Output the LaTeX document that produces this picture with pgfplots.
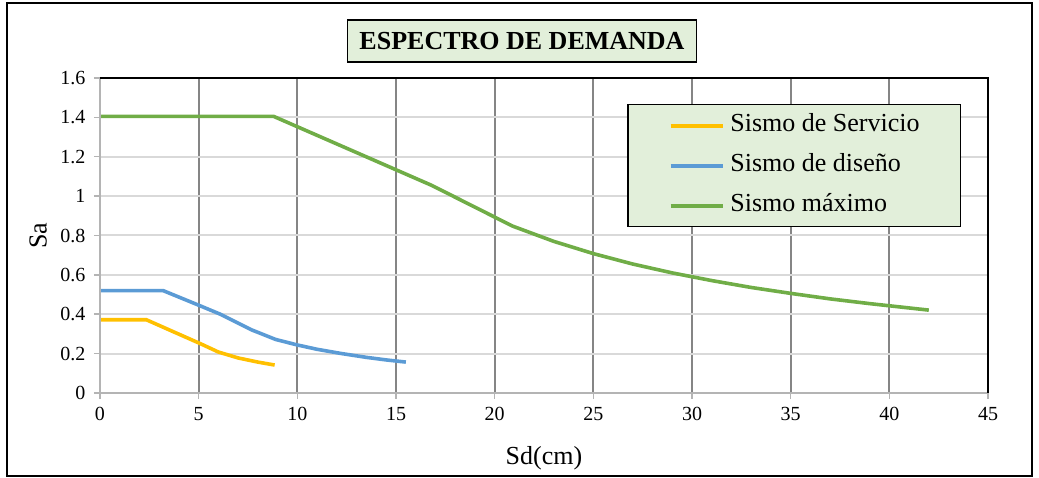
\documentclass[border=0pt]{standalone}
\usepackage{fontspec}
\setmainfont{Liberation Serif}
\usepackage{pgfplots}
\pgfplotsset{compat=1.18}
\definecolor{servicio}{HTML}{FFC000}
\definecolor{diseno}{HTML}{5B9BD5}
\definecolor{maximo}{HTML}{70AD47}
\definecolor{boxgreen}{HTML}{E2EFDA}
\definecolor{gridv}{HTML}{858585}
\definecolor{gridh}{HTML}{D9D9D9}
\definecolor{axisgray}{HTML}{B4B4B4}

\begin{document}
\begin{tikzpicture}
\useasboundingbox (-100pt,-85pt) rectangle (939pt,393pt);
\draw[line width=2pt] (-93pt,-83pt) rectangle (932pt,390pt);
\begin{axis}[
    name=ax,
    at={(0pt,0pt)}, anchor=south west,
    scale only axis,
    width=888pt, height=315pt,
    xmin=0, xmax=45, ymin=0, ymax=1.6,
    xtick={0,5,10,15,20,25,30,35,40,45},
    xticklabels={0,5,10,15,20,25,30,35,40,45},
    ytick={0,0.2,0.4,0.6,0.8,1,1.2,1.4,1.6},
    yticklabels={0,0.2,0.4,0.6,0.8,1,1.2,1.4,1.6},
    ticklabel style={font=\fontsize{20}{24}\selectfont},
    xticklabel style={yshift=-5pt},
    yticklabel style={xshift=-5pt},
    tick align=outside,
    major tick length=6pt,
    tick style={draw=axisgray, line width=1.5pt},
    xtick pos=bottom, ytick pos=left,
    axis line style={draw=none},
    xmajorgrids, ymajorgrids,
    x grid style={draw=gridv, line width=2pt},
    y grid style={draw=gridh, line width=2pt},
    xlabel={Sd(cm)},
    ylabel={Sa},
    label style={font=\fontsize{26}{30}\selectfont},
    xlabel style={at={(axis description cs:0.5,-0.2063)}, anchor=center},
    ylabel style={at={(axis description cs:-0.0698,0.5)}, anchor=center},
    legend style={
        at={(rel axis cs:0.5935,0.9175)}, anchor=north west,
        fill=boxgreen, draw=black, line width=1.5pt,
        font=\fontsize{26}{30}\selectfont,
        inner xsep=41pt, inner ysep=9pt,
        row sep=16pt, column sep=6pt,
        nodes={inner sep=0pt, text height=18pt, text depth=6pt},
    },
    legend cell align=left,
    legend image code/.code={\draw[#1] (0pt,0pt) -- (52pt,0pt);},
]
% Sismo de Servicio
\addplot[servicio, line width=3.6pt] coordinates {
    (0,0.372) (2.35,0.372) (3.7,0.312) (5.1,0.250) (6.0,0.208)
    (7.0,0.178) (8.0,0.157) (8.85,0.142)
};
\addlegendentry{Sismo de Servicio}
% Sismo de diseno
\addplot[diseno, line width=3.6pt] coordinates {
    (0,0.520) (3.2,0.520) (5.0,0.446) (6.1,0.400) (7.7,0.320)
    (8.9,0.272) (10,0.244) (11,0.222) (12.2,0.201) (13.5,0.181)
    (14.5,0.168) (15.5,0.157)
};
\addlegendentry{Sismo de diseño}
% Sismo maximo
\addplot[maximo, line width=3.6pt] coordinates {
    (0,1.405) (8.8,1.405) (16.8,1.055) (20.9,0.848) (23,0.770)
    (25,0.708) (27,0.655) (29,0.610) (31,0.571) (33,0.536)
    (35,0.506) (37,0.478) (39,0.454) (42,0.421)
};
\addlegendentry{Sismo máximo}
\end{axis}
\draw[axisgray, line width=2pt] (ax.north west) -- (ax.south west) -- (ax.south east);
\draw[black, line width=2pt] (ax.north west) -- (ax.north east) -- (ax.south east);
\node[fill=boxgreen, draw=black, line width=1.5pt, minimum width=349pt,
      minimum height=42pt, inner sep=0pt,
      font=\fontsize{26}{30}\selectfont\bfseries] at (422pt,352pt)
      {ESPECTRO DE DEMANDA};
\end{tikzpicture}
\end{document}
